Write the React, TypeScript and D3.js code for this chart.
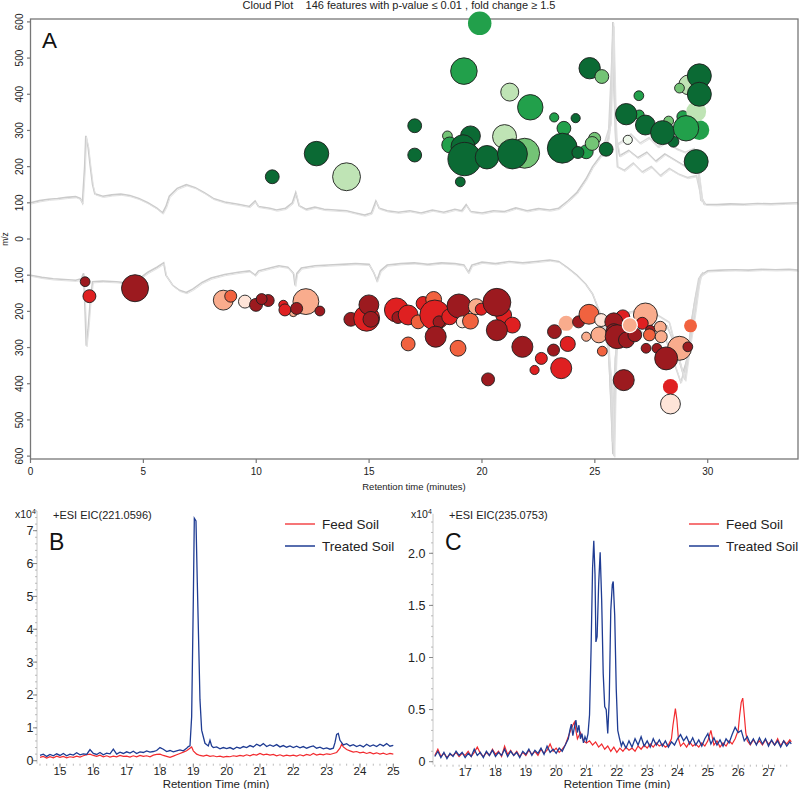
import React from "react";
import * as d3 from "d3";

// ---------- Panel A: cloud plot ----------
const titleA = "Cloud Plot    146 features with p-value \u2264 0.01 , fold change \u2265 1.5";
const xTicksA = [0, 5, 10, 15, 20, 25, 30];
const yTicksA = [-600, -500, -400, -300, -200, -100, 0, 100, 200, 300, 400, 500, 600];

// [retention time (min), m/z, abundance, fold-change bin 1..5, edge]
const upFeatures: [number, number, number, number, string][] = [
  [10.71, 172, 16, 5, "k"], [12.67, 236, 50, 5, "k"], [14.0, 172, 65, 2, "k"],
  [19.9, 596, 46, 4, "n"], [19.2, 464, 59, 4, "k"], [21.23, 406, 27, 2, "k"],
  [22.14, 364, 54, 4, "k"], [17.02, 313, 16, 5, "k"], [17.02, 232, 16, 5, "k"],
  [19.04, 158, 8, 5, "k"], [21.0, 283, 48, 2, "k"], [21.89, 237, 75, 3, "k"],
  [18.47, 285, 8, 3, "k"], [19.49, 285, 33, 5, "k"], [18.57, 260, 21, 4, "k"],
  [19.16, 255, 48, 5, "k"], [19.23, 221, 93, 5, "k"], [20.22, 226, 46, 5, "k"],
  [21.35, 235, 75, 5, "k"], [23.2, 336, 7, 4, "k"], [24.15, 334, 7, 5, "k"],
  [23.63, 306, 16, 4, "k"], [23.56, 251, 75, 5, "k"], [24.62, 241, 16, 4, "k"],
  [24.25, 239, 12, 5, "k"], [24.99, 278, 12, 3, "k"], [24.88, 264, 16, 3, "k"],
  [25.5, 248, 16, 5, "k"], [24.77, 472, 38, 5, "k"], [25.31, 449, 16, 3, "k"],
  [26.95, 396, 8, 4, "k"], [26.46, 274, 7, 1, "k"], [26.97, 343, 8, 4, "k"],
  [26.39, 345, 38, 5, "k"], [27.24, 315, 33, 5, "k"], [28.27, 326, 8, 3, "k"],
  [28.9, 338, 12, 4, "k"], [28.48, 269, 10, 5, "k"], [28.0, 294, 48, 5, "k"],
  [29.63, 301, 33, 4, "n"], [29.49, 352, 33, 2, "n"], [29.04, 306, 54, 4, "k"],
  [29.16, 426, 33, 2, "k"], [28.75, 417, 8, 3, "k"], [29.63, 451, 48, 5, "k"],
  [29.63, 400, 48, 5, "k"], [29.49, 214, 48, 5, "k"],
];

const downFeatures: [number, number, number, number, string][] = [
  [2.42, 118, 8, 5, "k"], [2.61, 158, 14, 4, "k"], [4.63, 136, 61, 5, "k"],
  [8.54, 169, 33, 2, "k"], [8.87, 158, 12, 3, "k"], [9.5, 173, 14, 1, "k"],
  [10.53, 170, 12, 5, "k"], [9.99, 182, 14, 5, "k"], [10.24, 166, 10, 5, "k"],
  [11.2, 182, 7, 4, "k"], [11.64, 204, 5, 2, "k"], [11.27, 196, 12, 4, "k"],
  [12.2, 173, 56, 2, "k"], [11.79, 192, 12, 5, "k"], [12.82, 199, 8, 5, "k"],
  [14.19, 222, 16, 5, "k"], [14.89, 219, 56, 4, "k"], [14.99, 182, 33, 5, "k"],
  [15.08, 222, 21, 5, "k"], [16.21, 196, 48, 4, "k"], [16.28, 217, 12, 5, "k"],
  [16.73, 210, 33, 4, "k"], [16.73, 290, 16, 3, "k"], [17.17, 229, 16, 3, "k"],
  [17.39, 178, 16, 4, "k"], [17.86, 167, 21, 3, "k"], [17.91, 210, 75, 4, "k"],
  [18.1, 229, 12, 5, "k"], [17.95, 270, 37, 5, "k"], [18.57, 215, 21, 4, "k"],
  [18.98, 185, 48, 5, "k"], [18.94, 302, 21, 3, "k"], [19.13, 229, 12, 1, "k"],
  [19.49, 227, 21, 3, "k"], [19.75, 187, 21, 2, "k"], [19.97, 194, 12, 4, "k"],
  [20.96, 210, 21, 4, "k"], [21.35, 238, 21, 4, "k"], [20.66, 175, 65, 5, "k"],
  [20.66, 252, 37, 5, "k"], [21.79, 298, 37, 5, "k"], [20.27, 388, 14, 5, "k"],
  [22.63, 330, 12, 4, "k"], [22.33, 362, 7, 4, "k"], [23.21, 256, 16, 5, "k"],
  [23.17, 307, 12, 5, "k"], [23.73, 233, 19, 2, "n"], [24.28, 229, 12, 5, "k"],
  [24.74, 208, 33, 3, "k"], [25.28, 224, 14, 1, "k"], [23.8, 290, 19, 4, "k"],
  [23.51, 357, 37, 4, "k"], [24.62, 270, 7, 2, "k"], [25.18, 265, 21, 2, "k"],
  [25.33, 310, 8, 3, "k"], [27.24, 210, 48, 2, "k"], [26.24, 215, 16, 4, "k"],
  [25.84, 229, 27, 5, "k"], [25.84, 256, 21, 5, "k"], [25.99, 270, 48, 5, "k"],
  [26.4, 279, 21, 5, "k"], [26.77, 265, 16, 5, "k"], [27.1, 233, 12, 4, "k"],
  [27.46, 252, 8, 5, "k"], [27.42, 265, 12, 3, "k"], [27.9, 244, 12, 2, "k"],
  [27.94, 270, 12, 2, "k"], [27.27, 302, 8, 5, "k"], [27.75, 302, 8, 5, "k"],
  [28.75, 302, 48, 2, "k"], [28.16, 330, 44, 5, "k"], [29.12, 298, 8, 5, "k"],
  [29.24, 240, 14, 3, "n"], [26.28, 390, 37, 5, "k"], [28.35, 408, 19, 4, "n"],
  [28.35, 456, 33, 1, "k"], [26.55, 238, 19, 2, "w"],
];

// total ion chromatogram outlines (m/z-equivalent height)
const ticUp: [number, number][] = [
  [0, 100], [0.4, 106], [0.8, 110], [1.2, 112], [1.6, 115], [2.0, 117], [2.2, 112], [2.3, 100], [2.4, 200], [2.45, 285],
  [2.55, 255], [2.65, 200], [2.75, 150], [2.85, 125], [3.2, 118], [3.6, 122], [4.0, 124], [4.4, 120], [4.8, 112], [5.2, 100],
  [5.6, 85], [5.85, 72], [6.0, 90], [6.15, 118], [6.5, 140], [6.9, 150], [7.3, 142], [7.7, 128], [8.1, 112], [8.6, 102],
  [9.2, 96], [9.7, 90], [9.95, 105], [10.1, 90], [10.6, 85], [10.9, 80], [11.3, 85], [11.6, 100], [11.75, 128], [11.9, 92],
  [12.2, 82], [12.6, 88], [13.0, 82], [13.5, 80], [14.0, 78], [14.4, 72], [14.8, 66], [15.1, 72], [15.3, 105], [15.45, 85],
  [15.8, 78], [16.3, 74], [16.8, 78], [17.3, 72], [17.8, 80], [18.3, 74], [18.8, 82], [19.1, 78], [19.3, 95], [19.5, 76],
  [20.0, 72], [20.5, 78], [21.0, 76], [21.5, 86], [22.0, 78], [22.5, 84], [23.0, 80], [23.4, 85], [23.8, 105], [24.2, 128],
  [24.6, 165], [24.9, 200], [25.2, 225], [25.5, 250], [25.65, 300], [25.75, 450], [25.8, 600], [25.85, 420], [25.95, 280],
  [26.1, 230], [26.5, 245], [26.9, 225], [27.3, 240], [27.7, 215], [28.1, 235], [28.5, 220], [28.9, 205], [29.3, 195],
  [29.6, 185], [29.75, 110], [29.9, 96], [30.4, 95], [31, 97], [31.6, 96], [32.2, 98], [32.8, 97], [33.4, 99], [34, 100],
];
const ticUpB: [number, number][] = [
  [25.3, 230], [25.6, 280], [25.8, 560], [25.9, 300], [26.0, 200], [26.3, 190], [26.7, 210], [27.1, 185], [27.5, 200],
  [27.9, 175], [28.3, 195], [28.7, 180], [29.1, 170], [29.5, 175], [29.7, 120], [29.85, 95],
];
const ticUpC: [number, number][] = [
  [25.4, 260], [25.7, 320], [25.82, 590], [25.95, 260], [26.2, 270], [26.6, 290], [27.0, 265], [27.4, 280], [27.8, 255],
  [28.2, 270], [28.6, 250], [29.0, 240], [29.4, 250], [29.55, 200], [29.7, 105],
];
const ticDown: [number, number][] = [
  [0, 100], [0.5, 106], [1.0, 110], [1.5, 112], [2.0, 114], [2.25, 110], [2.35, 95], [2.42, 200], [2.47, 295], [2.55, 250],
  [2.65, 170], [2.75, 118], [3.2, 116], [3.8, 118], [4.4, 122], [4.8, 110], [5.2, 92], [5.6, 78], [5.9, 66], [6.0, 100],
  [6.3, 128], [6.6, 142], [6.9, 148], [7.2, 138], [7.6, 120], [8.0, 108], [8.6, 98], [9.2, 92], [9.7, 88], [9.95, 100],
  [10.1, 88], [10.6, 80], [11.0, 74], [11.4, 78], [11.65, 95], [11.72, 128], [11.8, 95], [12.0, 80], [12.6, 74], [13.2, 72],
  [13.8, 70], [14.4, 68], [15.0, 70], [15.2, 92], [15.35, 115], [15.5, 88], [15.8, 72], [16.4, 68], [17.0, 66], [17.6, 70],
  [18.2, 66], [18.8, 68], [19.2, 72], [19.4, 92], [19.55, 72], [20.0, 64], [20.6, 68], [21.2, 62], [21.8, 66], [22.4, 62],
  [23.0, 58], [23.4, 62], [23.8, 80], [24.2, 100], [24.6, 125], [24.9, 152], [25.2, 200], [25.4, 250], [25.6, 300],
  [25.72, 450], [25.8, 595], [25.88, 420], [25.98, 260], [26.2, 235], [26.6, 225], [27.0, 230], [27.4, 215], [27.8, 235],
  [28.2, 240], [28.6, 300], [28.9, 370], [29.1, 330], [29.3, 220], [29.5, 150], [29.7, 100], [30.0, 88], [30.6, 86],
  [31.2, 85], [31.8, 86], [32.4, 84], [33.0, 85], [33.6, 84], [34, 86],
];
const ticDownB: [number, number][] = [
  [25.3, 210], [25.6, 280], [25.78, 560], [25.9, 330], [26.1, 250], [26.5, 260], [26.9, 250], [27.3, 265], [27.7, 255],
  [28.1, 270], [28.5, 340], [28.8, 395], [29.0, 360], [29.2, 280], [29.4, 180], [29.6, 110], [29.8, 92],
];
const ticDownC: [number, number][] = [
  [25.5, 260], [25.75, 400], [25.85, 600], [25.95, 290], [26.3, 205], [26.7, 200], [27.1, 210], [27.5, 200], [27.9, 215],
  [28.3, 230], [28.7, 330], [29.0, 390], [29.2, 300], [29.45, 200], [29.65, 105],
];

// ---------- Panel B: EIC 221.0596 ----------
const xTicksB = [15, 16, 17, 18, 19, 20, 21, 22, 23, 24, 25];
const yTicksB = [0, 1, 2, 3, 4, 5, 6, 7];
const bFeed: [number, number][] = [
  [14.4, .1], [14.5, .13], [14.6, .08], [14.7, .12], [14.8, .09], [14.9, .14], [15.0, .1], [15.1, .13], [15.2, .09], [15.3, .12],
  [15.4, .1], [15.5, .14], [15.6, .11], [15.7, .15], [15.8, .18], [15.9, .2], [16.0, .16], [16.1, .13], [16.2, .17], [16.3, .12],
  [16.4, .15], [16.5, .11], [16.6, .14], [16.7, .12], [16.8, .16], [16.9, .13], [17.0, .14], [17.1, .11], [17.2, .15], [17.3, .12],
  [17.4, .16], [17.5, .13], [17.6, .15], [17.7, .12], [17.8, .17], [17.9, .19], [18.0, .2], [18.1, .16], [18.2, .13], [18.3, .1],
  [18.4, .14], [18.5, .18], [18.6, .22], [18.7, .26], [18.8, .3], [18.9, .38], [18.95, .42], [19.0, .3], [19.1, .2], [19.2, .16],
  [19.3, .14], [19.4, .17], [19.5, .13], [19.6, .15], [19.7, .12], [19.8, .14], [19.9, .11], [20.0, .13], [20.1, .12], [20.2, .15],
  [20.3, .13], [20.4, .16], [20.5, .14], [20.6, .18], [20.7, .15], [20.8, .19], [20.9, .17], [21.0, .22], [21.1, .18], [21.2, .2],
  [21.3, .17], [21.4, .19], [21.5, .15], [21.6, .18], [21.7, .14], [21.8, .17], [21.9, .15], [22.0, .17], [22.1, .14], [22.2, .18],
  [22.3, .15], [22.4, .19], [22.5, .16], [22.6, .22], [22.7, .17], [22.8, .2], [22.9, .18], [23.0, .21], [23.1, .19], [23.2, .22],
  [23.3, .25], [23.4, .38], [23.45, .5], [23.5, .42], [23.6, .34], [23.7, .3], [23.8, .26], [23.9, .28], [24.0, .24], [24.1, .26],
  [24.2, .22], [24.3, .25], [24.4, .21], [24.5, .24], [24.6, .2], [24.7, .23], [24.8, .19], [24.9, .22], [25.0, .2],
];
const bTreated: [number, number][] = [
  [14.4, .16], [14.5, .2], [14.6, .13], [14.7, .19], [14.8, .15], [14.9, .21], [15.0, .16], [15.1, .22], [15.2, .15], [15.3, .2],
  [15.4, .17], [15.5, .24], [15.6, .18], [15.7, .21], [15.8, .19], [15.9, .34], [16.0, .22], [16.1, .19], [16.2, .25], [16.3, .18],
  [16.4, .23], [16.5, .21], [16.6, .35], [16.7, .2], [16.8, .26], [16.9, .22], [17.0, .27], [17.1, .23], [17.2, .29], [17.3, .22],
  [17.4, .27], [17.5, .25], [17.6, .3], [17.7, .26], [17.8, .28], [17.9, .31], [18.0, .4], [18.1, .35], [18.2, .28], [18.3, .31],
  [18.4, .27], [18.5, .3], [18.6, .33], [18.7, .3], [18.8, .38], [18.85, .43], [18.9, .45], [18.95, 1.34], [19.0, 4.9], [19.03, 7.38],
  [19.08, 7.3], [19.12, 5.4], [19.2, 1.85], [19.25, .93], [19.35, .53], [19.45, .45], [19.5, .62], [19.55, .45], [19.6, .4],
  [19.7, .42], [19.8, .36], [19.9, .4], [20.0, .37], [20.1, .4], [20.2, .35], [20.3, .41], [20.4, .38], [20.5, .43], [20.6, .4],
  [20.7, .46], [20.8, .42], [20.9, .5], [21.0, .45], [21.1, .52], [21.2, .43], [21.3, .48], [21.4, .44], [21.5, .49], [21.6, .42],
  [21.7, .46], [21.8, .41], [21.9, .45], [22.0, .4], [22.1, .44], [22.2, .39], [22.3, .43], [22.4, .38], [22.5, .42], [22.6, .45],
  [22.7, .38], [22.8, .41], [22.9, .36], [23.0, .39], [23.1, .35], [23.2, .38], [23.25, .55], [23.3, .8], [23.35, .83], [23.4, .62],
  [23.5, .48], [23.6, .52], [23.7, .45], [23.8, .49], [23.9, .43], [24.0, .47], [24.1, .42], [24.2, .5], [24.3, .44], [24.4, .48],
  [24.5, .43], [24.6, .5], [24.7, .45], [24.8, .52], [24.9, .44], [25.0, .47],
];

// ---------- Panel C: EIC 235.0753 ----------
const xTicksC = [17, 18, 19, 20, 21, 22, 23, 24, 25, 26, 27];
const yTicksC = [0, 0.5, 1.0, 1.5, 2.0];
const cFeed: [number, number][] = [
  [16.0, .06], [16.1, .12], [16.2, .05], [16.3, .08], [16.4, .04], [16.5, .07], [16.6, .06], [16.7, .09], [16.8, .05], [16.9, .08],
  [17.0, .06], [17.1, .1], [17.2, .05], [17.3, .09], [17.4, .14], [17.5, .08], [17.6, .05], [17.7, .09], [17.8, .06], [17.9, .12],
  [18.0, .07], [18.1, .1], [18.2, .05], [18.3, .15], [18.4, .07], [18.5, .11], [18.6, .06], [18.7, .1], [18.8, .05], [18.9, .09],
  [19.0, .06], [19.1, .11], [19.2, .07], [19.3, .1], [19.4, .06], [19.5, .12], [19.6, .08], [19.7, .11], [19.8, .17], [19.9, .1],
  [20.0, .13], [20.1, .09], [20.2, .12], [20.3, .16], [20.4, .24], [20.5, .32], [20.6, .38], [20.65, .3], [20.7, .22], [20.8, .28],
  [20.9, .2], [21.0, .18], [21.1, .2], [21.2, .16], [21.3, .19], [21.4, .14], [21.5, .17], [21.6, .12], [21.7, .15], [21.8, .1],
  [21.9, .14], [22.0, .09], [22.1, .13], [22.2, .1], [22.3, .14], [22.4, .11], [22.5, .13], [22.6, .1], [22.7, .15], [22.8, .12],
  [22.9, .16], [23.0, .13], [23.1, .17], [23.2, .14], [23.3, .18], [23.4, .15], [23.5, .17], [23.6, .14], [23.7, .16], [23.8, .22],
  [23.85, .35], [23.93, .51], [23.98, .4], [24.03, .22], [24.1, .15], [24.2, .18], [24.3, .14], [24.4, .19], [24.5, .15], [24.6, .17],
  [24.7, .14], [24.8, .18], [24.9, .15], [25.0, .2], [25.1, .3], [25.2, .16], [25.3, .2], [25.4, .14], [25.5, .18], [25.6, .15],
  [25.7, .2], [25.8, .17], [25.9, .22], [26.0, .3], [26.05, .45], [26.1, .57], [26.15, .61], [26.2, .45], [26.25, .28], [26.3, .2],
  [26.4, .16], [26.5, .21], [26.6, .17], [26.7, .2], [26.8, .16], [26.9, .21], [27.0, .17], [27.1, .2], [27.2, .16], [27.3, .22],
  [27.4, .15], [27.5, .2], [27.6, .17], [27.7, .21], [27.75, .19],
];
const cTreated: [number, number][] = [
  [16.0, .05], [16.1, .1], [16.2, .04], [16.3, .09], [16.4, .03], [16.5, .08], [16.6, .05], [16.7, .1], [16.8, .06], [16.9, .09],
  [17.0, .04], [17.1, .08], [17.2, .05], [17.3, .12], [17.4, .06], [17.5, .09], [17.6, .04], [17.7, .1], [17.8, .06], [17.9, .11],
  [18.0, .05], [18.1, .09], [18.2, .06], [18.3, .12], [18.4, .05], [18.5, .1], [18.6, .06], [18.7, .09], [18.8, .04], [18.9, .1],
  [19.0, .07], [19.1, .12], [19.2, .06], [19.3, .11], [19.4, .08], [19.5, .13], [19.6, .07], [19.7, .15], [19.8, .09], [19.9, .12],
  [20.0, .08], [20.1, .13], [20.2, .1], [20.3, .16], [20.4, .22], [20.45, .3], [20.5, .36], [20.55, .25], [20.6, .33], [20.65, .4],
  [20.7, .28], [20.75, .35], [20.8, .22], [20.85, .27], [20.9, .18], [20.95, .24], [21.0, .2], [21.05, .27], [21.1, .45],
  [21.15, 1.07], [21.2, 1.86], [21.24, 2.12], [21.28, 1.8], [21.31, 1.15], [21.35, 1.2], [21.4, 1.7], [21.45, 2.01], [21.5, 1.55],
  [21.55, .85], [21.6, .53], [21.65, .5], [21.7, .27], [21.75, .6], [21.8, 1.45], [21.85, 1.7], [21.88, 1.73], [21.93, 1.4],
  [21.98, .7], [22.03, .3], [22.09, .22], [22.15, .15], [22.2, .19], [22.3, .13], [22.4, .2], [22.5, .14], [22.6, .22], [22.7, .16],
  [22.8, .24], [22.9, .15], [23.0, .2], [23.1, .14], [23.2, .22], [23.3, .16], [23.4, .21], [23.5, .15], [23.6, .2], [23.7, .14],
  [23.8, .19], [23.9, .16], [24.0, .22], [24.1, .26], [24.2, .2], [24.3, .24], [24.4, .17], [24.5, .23], [24.6, .16], [24.7, .21],
  [24.8, .15], [24.9, .22], [25.0, .27], [25.1, .17], [25.2, .23], [25.3, .16], [25.4, .21], [25.5, .15], [25.6, .22], [25.7, .18],
  [25.8, .26], [25.9, .33], [26.0, .28], [26.1, .3], [26.2, .2], [26.3, .24], [26.4, .17], [26.5, .22], [26.6, .16], [26.7, .23],
  [26.8, .17], [26.9, .22], [27.0, .15], [27.1, .21], [27.2, .16], [27.3, .2], [27.4, .14], [27.5, .2], [27.6, .15], [27.7, .19],
  [27.75, .17],
];

const legendLabels = ["Feed Soil", "Treated Soil"];

const GREENS = ["#eef8ea", "#bfe4b5", "#74c476", "#22a04b", "#0b6a34"];
const REDS = ["#fee4d8", "#f9ac8d", "#f1623f", "#df2021", "#9c1a1f"];
const FEED = "#f22a2e";
const TREATED = "#1f3c93";
const FONT = "'Liberation Sans', Arial, Helvetica, sans-serif";

function EicPanel(props: {
  xDomain: [number, number]; xRange: [number, number];
  yDomain: [number, number]; yRange: [number, number];
  xTicks: number[]; yTicks: number[]; yMinorStep: number; yFmt: (v: number) => string;
  feed: [number, number][]; treated: [number, number][];
  letter: string; eic: string; legendX: number; labelRight: number; xTitleX: number;
}) {
  const x = d3.scaleLinear().domain(props.xDomain).range(props.xRange);
  const y = d3.scaleLinear().domain(props.yDomain).range(props.yRange);
  const line = d3.line<[number, number]>().x(d => x(d[0])).y(d => y(d[1]));
  const x0 = props.xRange[0];
  const yBase = y(0) + 3;
  const minorY = d3.range(props.yDomain[0], props.yDomain[1] + 1e-9, props.yMinorStep);
  const minorX = d3.range(Math.ceil(props.xDomain[0] * 5) / 5, props.xDomain[1], 0.2);
  return (
    <g fontFamily={FONT}>
      <line x1={x0} x2={x0} y1={props.yRange[1]} y2={yBase} stroke="#c8c8c8" strokeWidth={1} />
      {minorY.map((v, i) => (
        <line key={"my" + i} x1={x0 - 2} x2={x0} y1={y(v)} y2={y(v)} stroke="#aaa" strokeWidth={0.8} />
      ))}
      {props.yTicks.map(v => (
        <g key={"y" + v}>
          <line x1={x0 - 4} x2={x0} y1={y(v)} y2={y(v)} stroke="#888" strokeWidth={1} />
          <text x={props.labelRight} y={y(v) + 4.5} fontSize={12.5} textAnchor="end" fill="#222">{props.yFmt(v)}</text>
        </g>
      ))}
      {minorX.map((v, i) => (
        <line key={"mx" + i} x1={x(v)} x2={x(v)} y1={yBase} y2={yBase + 2} stroke="#aaa" strokeWidth={0.8} />
      ))}
      {props.xTicks.map(v => (
        <g key={"x" + v}>
          <line x1={x(v)} x2={x(v)} y1={yBase} y2={yBase + 4} stroke="#888" strokeWidth={1} />
          <text x={x(v)} y={yBase + 11.5} fontSize={11.5} textAnchor="middle" fill="#222">{v}</text>
        </g>
      ))}
      <text x={props.xTitleX} y={788} fontSize={11.5} textAnchor="middle" fill="#222">Retention Time (min)</text>
      <path d={line(props.feed) || ""} fill="none" stroke={FEED} strokeWidth={1.2} />
      <path d={line(props.treated) || ""} fill="none" stroke={TREATED} strokeWidth={1.3} />
      <text x={x0 - 22} y={518} fontSize={10.5} fill="#222">x10<tspan dy={-4} fontSize={7}>4</tspan></text>
      <text x={x0 + 16} y={518.5} fontSize={11} fill="#222">{props.eic}</text>
      <text x={x0 + 12} y={550} fontSize={23} fill="#111">{props.letter}</text>
      <line x1={props.legendX} x2={props.legendX + 30} y1={524} y2={524} stroke={FEED} strokeWidth={1.3} />
      <text x={props.legendX + 37} y={529} fontSize={13.5} fill="#222">{legendLabels[0]}</text>
      <line x1={props.legendX} x2={props.legendX + 30} y1={546} y2={546} stroke={TREATED} strokeWidth={1.5} />
      <text x={props.legendX + 37} y={551} fontSize={13.5} fill="#222">{legendLabels[1]}</text>
    </g>
  );
}

export default function App() {
  const xA = d3.scaleLinear().domain([0, 34]).range([30.5, 798]);
  const yA = d3.scaleLinear().domain([-608, 608]).range([459, 19]);
  const rA = d3.scaleSqrt().domain([0, 100]).range([0, 17.3]);
  const upLine = d3.line<[number, number]>().x(d => xA(d[0])).y(d => yA(d[1]));
  const downLine = d3.line<[number, number]>().x(d => xA(d[0])).y(d => yA(-d[1]));
  const traces = [
    { d: upLine(ticUp), c: "#cbcbcb" }, { d: upLine(ticUpB), c: "#d6d6d6" }, { d: upLine(ticUpC), c: "#dadada" },
    { d: downLine(ticDown), c: "#cbcbcb" }, { d: downLine(ticDownB), c: "#d6d6d6" }, { d: downLine(ticDownC), c: "#dadada" },
  ];
  const edge = (e: string) => (e === "k" ? "#1e1e1e" : e === "w" ? "#ffffff" : "none");

  return (
    <svg width={800} height={789} style={{ position: "absolute", left: 0, top: 0, background: "#fff" }}>
      <rect width={800} height={789} fill="#fff" />
      {/* Panel A */}
      <g fontFamily={FONT}>
        <text x={399} y={9} fontSize={11} textAnchor="middle" fill="#222" style={{ whiteSpace: "pre" }}>{titleA}</text>
        {traces.map((t, i) => (
          <g key={"t" + i}>
            <path d={t.d || ""} fill="none" stroke={t.c} strokeWidth={1.6} />
            <path d={t.d || ""} fill="none" stroke="#e2e2e2" strokeWidth={1} transform="translate(0.8,1.2)" />
          </g>
        ))}
        <rect x={30.5} y={19} width={767.5} height={440} fill="none" stroke="#777" strokeWidth={1.3} />
        {xTicksA.map(v => (
          <g key={"xa" + v}>
            <line x1={xA(v)} x2={xA(v)} y1={459} y2={463} stroke="#777" strokeWidth={1.2} />
            <text x={xA(v)} y={474.5} fontSize={10} textAnchor="middle" fill="#222">{v}</text>
          </g>
        ))}
        {yTicksA.map(v => (
          <g key={"ya" + v}>
            <line x1={27} x2={30.5} y1={yA(v)} y2={yA(v)} stroke="#777" strokeWidth={1.2} />
            <text transform={`translate(23.3,${yA(v)}) rotate(-90)`} fontSize={10} textAnchor="middle" fill="#222">{Math.abs(v)}</text>
          </g>
        ))}
        <text x={414} y={489.5} fontSize={9.5} textAnchor="middle" fill="#222">Retention time (minutes)</text>
        <text transform={`translate(8,${yA(0)}) rotate(-90)`} fontSize={8.5} textAnchor="middle" fill="#222">m/z</text>
        {upFeatures.map((f, i) => (
          <circle key={"u" + i} cx={xA(f[0])} cy={yA(f[1])} r={rA(f[2])} fill={GREENS[f[3] - 1]}
            stroke={edge(f[4])} strokeWidth={0.9} />
        ))}
        {downFeatures.map((f, i) => (
          <circle key={"d" + i} cx={xA(f[0])} cy={yA(-f[1])} r={rA(f[2])} fill={REDS[f[3] - 1]}
            stroke={edge(f[4])} strokeWidth={f[4] === "w" ? 1.2 : 0.9} />
        ))}
        <text x={42} y={48} fontSize={22.5} fill="#111">A</text>
      </g>
      {/* Panel B */}
      <EicPanel xDomain={[14.31, 25.15]} xRange={[37, 398.3]} yDomain={[0, 7.6]} yRange={[760.7, 760.7 - 7.6 * 32.86]}
        xTicks={xTicksB} yTicks={yTicksB} yMinorStep={0.2} yFmt={v => String(v)}
        feed={bFeed} treated={bTreated} letter="B" eic="+ESI EIC(221.0596)" legendX={285} labelRight={33.5} xTitleX={216} />
      {/* Panel C */}
      <EicPanel xDomain={[15.94, 27.8]} xRange={[433, 792.8]} yDomain={[0, 2.38]} yRange={[761.7, 761.7 - 2.38 * 104.2]}
        xTicks={xTicksC} yTicks={yTicksC} yMinorStep={0.1} yFmt={v => (v === 0 ? "0" : v.toFixed(1))}
        feed={cFeed} treated={cTreated} letter="C" eic="+ESI EIC(235.0753)" legendX={689} labelRight={425.5} xTitleX={617} />
    </svg>
  );
}
